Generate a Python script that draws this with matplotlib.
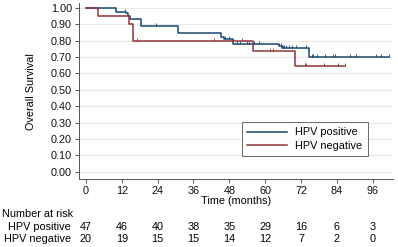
import numpy as np
import matplotlib
matplotlib.use("Agg")
import matplotlib.pyplot as plt
from matplotlib.path import Path

plt.rcParams['font.family'] = ['Liberation Sans', 'DejaVu Sans']

# Kaplan-Meier step data
pos_times = [0, 10, 13.4, 14.1, 14.7, 18.6, 30.9, 45.1, 46.2, 49.2, 64.5, 65.5, 74.6]
pos_surv = [1.0, 0.977, 0.967, 0.951, 0.935, 0.89, 0.845, 0.825, 0.81, 0.778, 0.766, 0.754, 0.70]
pos_end = 101.5
pos_cens = [13.0, 23.4, 46.7, 47.9, 50.4, 51.7, 54.0, 54.6, 56.2, 58.0,
            65.3, 65.8, 66.3, 67.0, 68.0, 69.0, 70.4, 73.6,
            75.5, 76.0, 77.2, 79.9, 82.7, 83.3, 88.3, 90.5, 97.2, 98.9, 101.4]

neg_times = [0, 4.1, 14.5, 15.6, 56, 70]
neg_surv = [1.0, 0.95, 0.90, 0.80, 0.737, 0.646]
neg_end = 86.7
neg_cens = [17.2, 42.8, 52.4, 61.5, 62.6, 73.2, 73.6, 79.7, 84.4, 86.7]

tick_months = [0, 12, 24, 36, 48, 60, 72, 84, 96]
risk_pos = [47, 46, 40, 38, 35, 29, 16, 6, 3]
risk_neg = [20, 19, 15, 15, 14, 12, 7, 2, 0]

blue = "#1a476f"
red = "#90353b"
fs = 7.8

fig = plt.figure(figsize=(3.98, 2.47), dpi=100)
ax = fig.add_axes([0.1985, 0.274, 0.7885, 0.714])

up_tick = Path([(0, 0), (0, 1)], [Path.MOVETO, Path.LINETO])


def km(times, surv, end, cens, color, label):
    t = list(times) + [end]
    s = list(surv) + [surv[-1]]
    ax.step(t, s, where="post", color=color, lw=1.1, label=label)
    idx = np.searchsorted(times, cens, side="right") - 1
    ax.plot(cens, np.array(surv)[idx], linestyle="none", marker=up_tick,
            markersize=5, markeredgecolor=color, markeredgewidth=0.6,
            markerfacecolor="none")


km(pos_times, pos_surv, pos_end, pos_cens, blue, "HPV positive")
km(neg_times, neg_surv, neg_end, neg_cens, red, "HPV negative")

ax.set_xlim(-2.3, 102.7)
ax.set_ylim(-0.046, 1.03)
ax.set_yticks(np.arange(0, 1.01, 0.1))
ax.set_yticklabels(["%.2f" % v for v in np.arange(0, 1.01, 0.1)])
ax.set_xticks(tick_months)
ax.grid(axis="y", color="#e8e8e8", lw=0.8)
ax.set_axisbelow(True)
for sp in ["top", "right"]:
    ax.spines[sp].set_visible(False)
for sp in ["left", "bottom"]:
    ax.spines[sp].set_color("#555555")
    ax.spines[sp].set_linewidth(0.7)
ax.tick_params(labelsize=fs, colors="#555555", labelcolor="#111111",
               length=3, width=0.7, pad=2)

ax.set_ylabel("Overall Survival", fontsize=fs, labelpad=11)
ax.set_xlabel("Time (months)", fontsize=fs, labelpad=0)

leg = ax.legend(loc="upper left", bbox_to_anchor=(0.519, 0.325), fontsize=fs,
                frameon=True, fancybox=False, edgecolor="#444444",
                handlelength=3.7, borderpad=0.5, labelspacing=0.3,
                handletextpad=0.7, borderaxespad=0)
leg.get_frame().set_linewidth(0.7)

# number at risk table
fig.text(2 / 398, 1 - 214 / 247, "Number at risk", fontsize=fs, va="center")
fig.text(71 / 398, 1 - 227 / 247, "HPV positive", fontsize=fs, va="center", ha="right")
fig.text(71 / 398, 1 - 238.5 / 247, "HPV negative", fontsize=fs, va="center", ha="right")
for m, a, b in zip(tick_months, risk_pos, risk_neg):
    xf = fig.transFigure.inverted().transform(ax.transData.transform((m, 0)))[0]
    fig.text(xf, 1 - 227 / 247, str(a), fontsize=fs, va="center", ha="center")
    fig.text(xf, 1 - 238.5 / 247, str(b), fontsize=fs, va="center", ha="center")

fig.savefig("out.png", dpi=100, facecolor="white")
